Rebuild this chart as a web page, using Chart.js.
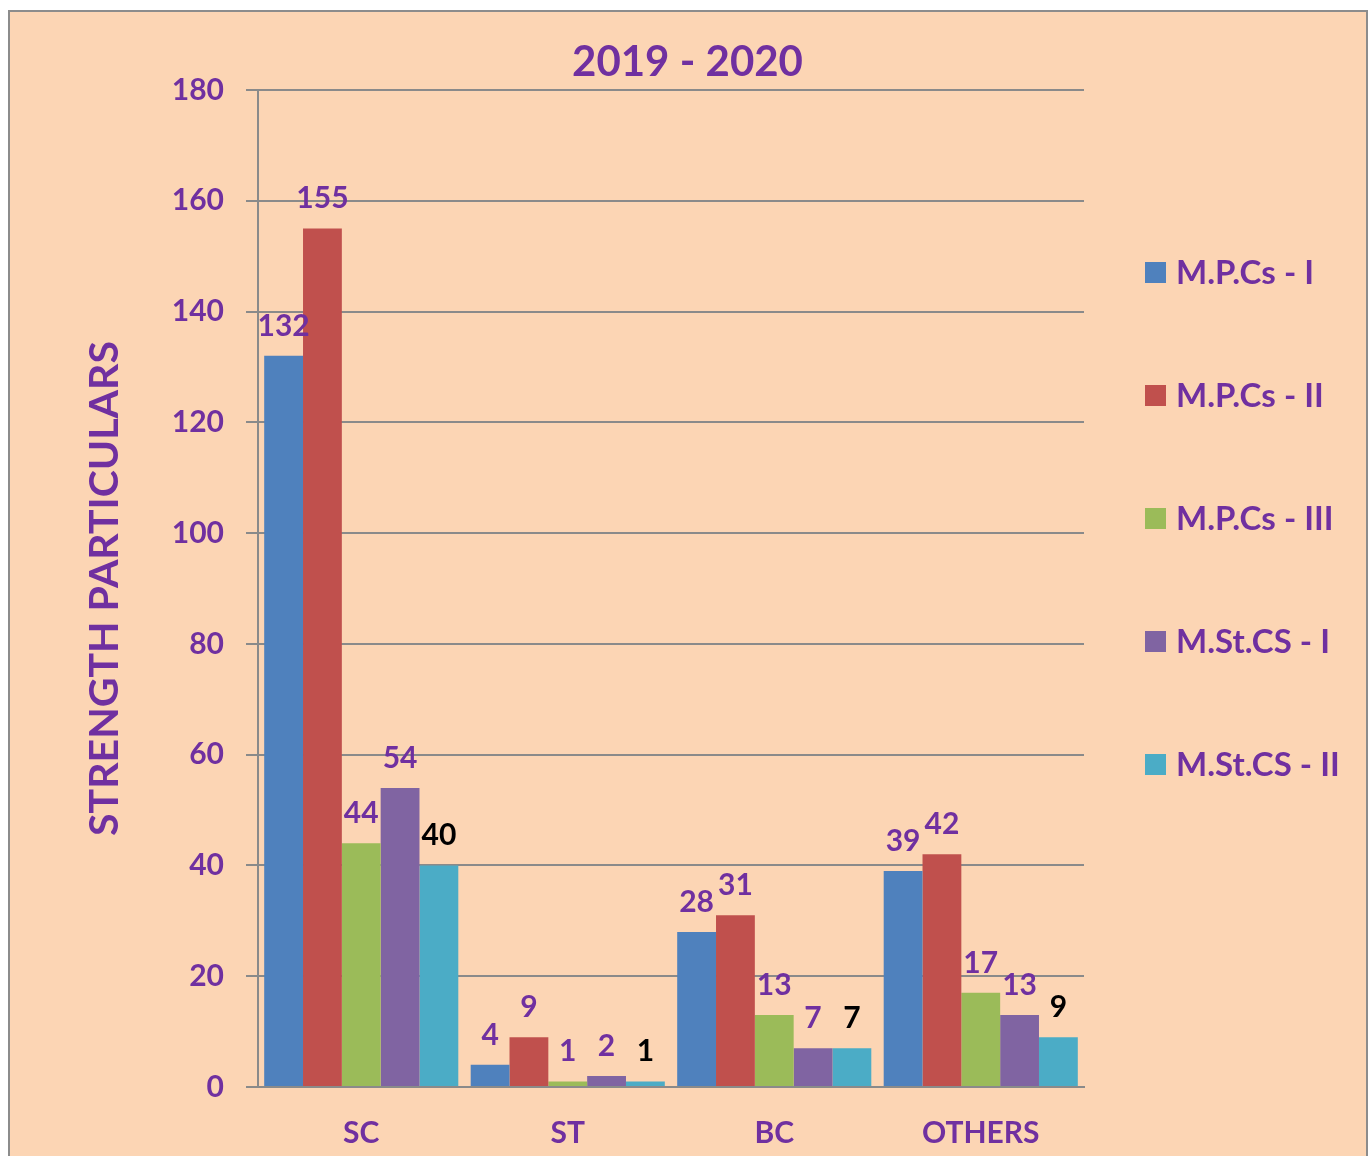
<!DOCTYPE html>
<html>
<head>
<meta charset="utf-8">
<script src="https://cdn.jsdelivr.net/npm/chart.js@4.4.1/dist/chart.umd.min.js"></script>
<style>
  html, body { margin: 0; padding: 0; background: #ffffff; overflow: hidden; }
  #frame {
    position: absolute; left: 8px; top: 10px; width: 1356px; height: 1200px;
    background: #fcd5b4; border: 2px solid #8c8c8c;
  }
  #wrap { position: absolute; left: 0; top: 0; width: 1371px; height: 1156px; }
</style>
</head>
<body>
<div id="frame"></div>
<div id="wrap"><canvas id="chart" width="1371" height="1156"></canvas></div>
<script>
  const categories = ["SC", "ST", "BC", "OTHERS"];
  const seriesNames = ["M.P.Cs - I", "M.P.Cs - II", "M.P.Cs - III", "M.St.CS - I", "M.St.CS - II"];
  const mpcs1 = [132, 4, 28, 39];
  const mpcs2 = [155, 9, 31, 42];
  const mpcs3 = [44, 1, 13, 17];
  const mstcs1 = [54, 2, 7, 13];
  const mstcs2 = [40, 1, 7, 9];
  const yTicks = [0, 20, 40, 60, 80, 100, 120, 140, 160, 180];
  const chartTitle = "2019 - 2020";

  const seriesValues = [mpcs1, mpcs2, mpcs3, mstcs1, mstcs2];
  const seriesColors = ["#4f81bd", "#c0504d", "#9bbb59", "#8064a2", "#4bacc6"];
  const labelColors = ["#7030a0", "#7030a0", "#7030a0", "#7030a0", "#000000"];

  const purple = "#7030a0";
  const fontFamily = "Lato, 'Open Sans', sans-serif";

  // value labels above each bar
  const valueLabels = {
    id: "valueLabels",
    afterDatasetsDraw(chart) {
      const ctx = chart.ctx;
      ctx.save();
      ctx.font = "bold 30px " + fontFamily;
      ctx.textAlign = "center";
      ctx.textBaseline = "bottom";
      chart.data.datasets.forEach((ds, i) => {
        const meta = chart.getDatasetMeta(i);
        meta.data.forEach((bar, j) => {
          ctx.fillStyle = labelColors[i];
          ctx.fillText(String(ds.data[j]), bar.x, bar.y - 15);
        });
      });
      ctx.restore();
    },
  };

  // title centred on the whole frame, legend on the right with wide spacing
  const sideLegend = {
    id: "sideLegend",
    afterDraw(chart) {
      const ctx = chart.ctx;
      const area = chart.chartArea;
      ctx.save();
      ctx.font = "bold 42px " + fontFamily;
      ctx.textAlign = "center";
      ctx.textBaseline = "middle";
      ctx.fillStyle = purple;
      ctx.fillText(chartTitle, chart.width / 2 + 2, 62);

      const x = area.right + 61;
      const y0 = 272;
      const step = 123;
      ctx.font = "bold 33px " + fontFamily;
      ctx.textAlign = "left";
      chart.data.datasets.forEach((ds, i) => {
        const y = y0 + i * step;
        ctx.fillStyle = ds.backgroundColor;
        ctx.fillRect(x, y - 10, 21, 21);
        ctx.fillStyle = purple;
        ctx.fillText(ds.label, x + 31, y + 1);
      });
      ctx.restore();
    },
  };

  const datasets = seriesNames.map((name, i) => ({
    label: name,
    data: seriesValues[i],
    backgroundColor: seriesColors[i],
    borderWidth: 0,
    barPercentage: 1.0,
    categoryPercentage: 0.94,
  }));

  new Chart(document.getElementById("chart").getContext("2d"), {
    type: "bar",
    data: { labels: categories, datasets: datasets },
    plugins: [valueLabels, sideLegend],
    options: {
      responsive: false,
      animation: false,
      layout: { padding: { top: 90, left: 0, right: 287, bottom: 0 } },
      plugins: {
        legend: { display: false },
        tooltip: { enabled: false },
        title: { display: false },
      },
      scales: {
        x: {
          grid: { display: false, drawTicks: false },
          border: { display: true, color: "#8a8a8a", width: 2 },
          ticks: {
            color: purple,
            font: { family: fontFamily, size: 30, weight: "bold" },
            padding: 28,
          },
          afterFit(scale) { scale.height = 69; },
        },
        y: {
          min: 0,
          max: 180,
          afterBuildTicks(scale) { scale.ticks = yTicks.map((v) => ({ value: v })); },
          grid: { color: "#8a8a8a", lineWidth: 2, tickLength: 12 },
          border: { display: true, color: "#8a8a8a", width: 2 },
          ticks: {
            color: purple,
            font: { family: fontFamily, size: 30, weight: "bold" },
            padding: 22,
          },
          title: {
            display: true,
            text: "STRENGTH PARTICULARS",
            color: purple,
            font: { family: fontFamily, size: 41, weight: "bold" },
            padding: { top: 80, bottom: 0 },
          },
          afterFit(scale) { scale.width = 258; },
        },
      },
    },
  });
</script>
</body>
</html>
